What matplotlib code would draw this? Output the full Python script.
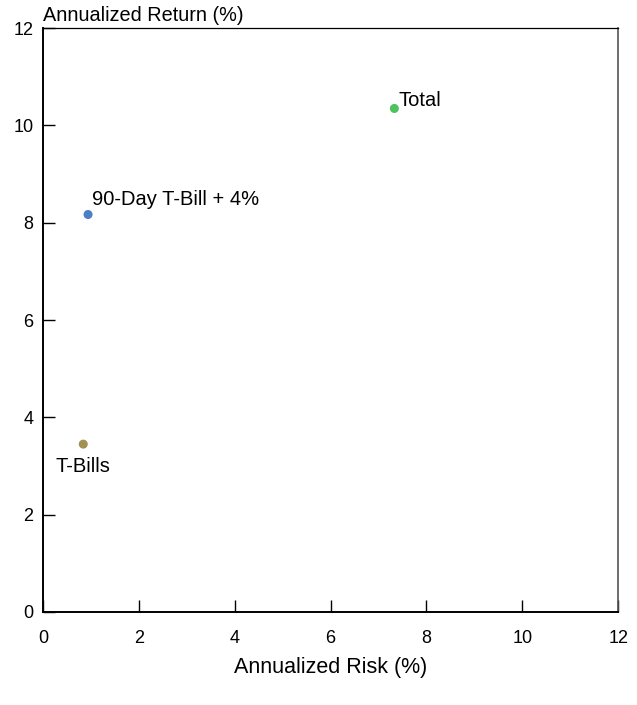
import matplotlib.pyplot as plt
from matplotlib import font_manager

names = ["Total", "90-Day T-Bill + 4%", "T-Bills"]
risk = [7.33, 0.94, 0.84]
ret = [10.35, 8.17, 3.45]
colors = ["#4cc35c", "#4a80c4", "#a39152"]
ticks = [0, 2, 4, 6, 8, 10, 12]

fams = [f.name for f in font_manager.fontManager.ttflist]
fam = "Liberation Sans Narrow" if "Liberation Sans Narrow" in fams else "Liberation Sans"
plt.rcParams['font.family'] = [fam, 'DejaVu Sans']

fig = plt.figure(figsize=(6.37, 7.05), dpi=100)
ax = fig.add_axes([0.0675, 0.132, 0.903, 0.828])

ax.scatter(risk, ret, c=colors, s=30, zorder=3)

# label placement (offsets in points)
offsets = {"Total": (3, -1, "left", "bottom"),
           "90-Day T-Bill + 4%": (3, 4, "left", "bottom"),
           "T-Bills": (-20, -16, "left", "center")}
for n, x, y in zip(names, risk, ret):
    dx, dy, ha, va = offsets[n]
    ax.annotate(n, (x, y), xytext=(dx, dy), textcoords="offset points",
                ha=ha, va=va, fontsize=14.5)

ax.set_xlim(0, 12)
ax.set_ylim(0, 12)
ax.set_xticks(ticks)
ax.set_yticks(ticks)
ax.tick_params(direction="in", length=8.5, width=1, labelsize=13)
ax.tick_params(axis="x", pad=13)
ax.tick_params(axis="y", pad=7)

for s in ["left", "bottom"]:
    ax.spines[s].set_linewidth(1.4)
ax.spines["top"].set_linewidth(0.9)
ax.spines["right"].set_color("#555555")
ax.spines["right"].set_linewidth(1.2)

ax.set_xlabel("Annualized Risk (%)", fontsize=15.5, labelpad=7)
ax.text(0.0, 1.005, "Annualized Return (%)", transform=ax.transAxes,
        ha="left", va="bottom", fontsize=14.3)

fig.savefig("out.png", dpi=100)
